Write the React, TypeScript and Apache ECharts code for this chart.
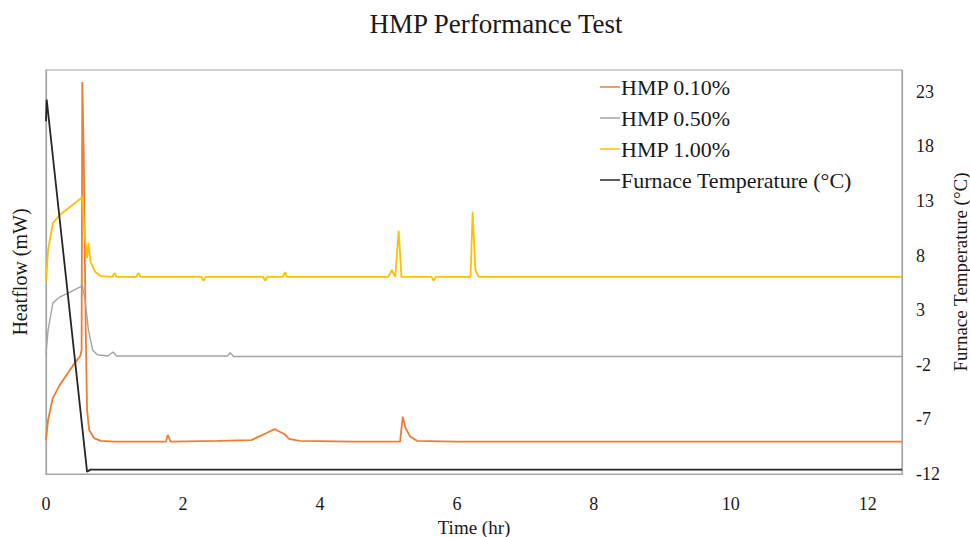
import React, { useEffect, useRef } from "react";
import * as echarts from "echarts";

// Time (hr) and heatflow values (arbitrary offset units on the left axis)
const orangeTime = [0, 0.03, 0.1, 0.2, 0.3, 0.4, 0.5, 0.52, 0.53, 0.55, 0.58, 0.6, 0.63, 0.7, 0.8, 1.0, 1.75, 1.78, 1.82, 2.5, 3.0, 3.1, 3.25, 3.34, 3.42, 3.48, 3.55, 3.7, 4.5, 5.17, 5.21, 5.25, 5.32, 5.42, 6.0, 8.0, 10.0, 12.5];
const orangeValue = [8.4, 13.4, 18.8, 22.0, 24.5, 27.0, 29.2, 30.7, 97.0, 80.2, 35.6, 15.8, 10.9, 8.9, 8.2, 8.0, 8.0, 9.65, 8.0, 8.2, 8.4, 9.2, 10.4, 11.1, 10.4, 9.9, 8.7, 8.2, 8.0, 8.0, 14.2, 11.4, 9.2, 8.2, 8.0, 8.0, 8.0, 8.0];

const grayTime = [0, 0.03, 0.1, 0.2, 0.35, 0.5, 0.53, 0.57, 0.62, 0.68, 0.75, 0.9, 0.98, 1.03, 2.65, 2.69, 2.74, 4.0, 6.0, 8.0, 10.0, 12.5];
const grayValue = [29.5, 35.6, 42.3, 43.8, 45.0, 46.3, 46.8, 43.1, 35.6, 30.7, 29.5, 29.2, 30.2, 29.2, 29.2, 30.0, 29.1, 29.1, 29.1, 29.1, 29.1, 29.1];

const yellowTime = [0, 0.03, 0.1, 0.2, 0.35, 0.5, 0.53, 0.56, 0.6, 0.62, 0.65, 0.72, 0.8, 0.97, 1.0, 1.03, 1.32, 1.35, 1.38, 2.27, 2.3, 2.33, 3.17, 3.2, 3.23, 3.46, 3.49, 3.52, 5.0, 5.05, 5.1, 5.15, 5.19, 5.63, 5.66, 5.69, 6.2, 6.23, 6.27, 6.32, 8.0, 10.0, 12.5];
const yellowValue = [47.5, 55.4, 62.1, 64.1, 66.1, 68.1, 68.6, 60.4, 53.5, 57.2, 52.5, 50.0, 49.0, 48.8, 49.8, 48.8, 48.8, 49.8, 48.8, 48.8, 47.8, 48.8, 48.8, 47.8, 48.8, 48.8, 50.0, 48.8, 48.8, 50.5, 48.8, 60.2, 48.8, 48.8, 47.8, 48.8, 48.8, 64.9, 50.5, 48.8, 48.8, 48.8, 48.8];

// Furnace temperature (°C)
const furnaceTime = [0, 0.01, 0.6, 0.65, 2.0, 6.0, 12.5];
const furnaceValue = [20.3, 22.3, -11.8, -11.6, -11.6, -11.6, -11.6];

const xTickLabels = [0, 2, 4, 6, 8, 10, 12];
const tempTickLabels = [-12, -7, -2, 3, 8, 13, 18, 23];

const seriesNames = ["HMP 0.10%", "HMP 0.50%", "HMP 1.00%", "Furnace Temperature (°C)"];
const seriesColors = ["#ED7D31", "#A5A5A5", "#FFC000", "#262626"];

const FONT = "Liberation Serif";
const TEXT = "#1a1a1a";

function zip(t: number[], v: number[]) {
  return t.map((x, i) => [x, v[i]]);
}

export default function App() {
  const ref = useRef<HTMLDivElement>(null);
  useEffect(() => {
    if (!ref.current) return;
    const chart = echarts.init(ref.current, undefined, { renderer: "svg" });
    const data = [
      zip(orangeTime, orangeValue),
      zip(grayTime, grayValue),
      zip(yellowTime, yellowValue),
      zip(furnaceTime, furnaceValue),
    ];
    chart.setOption({
      animation: false,
      backgroundColor: "#ffffff",
      textStyle: { fontFamily: FONT },
      title: {
        text: "HMP Performance Test",
        left: 491,
        textAlign: "center",
        top: 5,
        textStyle: { fontFamily: FONT, fontSize: 27, fontWeight: "normal", color: TEXT },
      },
      legend: {
        orient: "vertical",
        left: 595,
        top: 71,
        icon: "rect",
        itemWidth: 20,
        itemHeight: 1.5,
        itemGap: 9,
        data: seriesNames,
        textStyle: { fontFamily: FONT, fontSize: 22, color: TEXT, lineHeight: 21, padding: [0, 0, 0, -4] },
      },
      grid: {
        left: 46,
        right: 68,
        top: 70,
        bottom: 63,
        outerBoundsMode: "none",
        containLabel: false,
        show: true,
        borderColor: "#A6A6A6",
        borderWidth: 1.2,
        backgroundColor: "transparent",
      },
      xAxis: {
        type: "value",
        min: 0,
        max: 12.5,
        name: "Time (hr)",
        nameLocation: "middle",
        nameGap: 41,
        nameTextStyle: { fontFamily: FONT, fontSize: 19, color: TEXT },
        axisLine: { show: true, lineStyle: { color: "#A6A6A6", width: 1.2 } },
        axisTick: { show: false },
        splitLine: { show: false },
        axisLabel: { customValues: xTickLabels, margin: 21, fontFamily: FONT, fontSize: 18, color: TEXT },
      },
      yAxis: [
        {
          type: "value",
          min: 0,
          max: 100,
          name: "Heatflow (mW)",
          nameLocation: "middle",
          nameRotate: 90,
          nameGap: 16,
          nameTextStyle: { fontFamily: FONT, fontSize: 20, color: TEXT },
          axisLine: { show: true, lineStyle: { color: "#A6A6A6", width: 1.2 } },
          axisTick: { show: false },
          axisLabel: { show: false },
          splitLine: { show: false },
        },
        {
          type: "value",
          position: "right",
          min: -12,
          max: 25,
          name: "Furnace Temperature (°C)",
          nameLocation: "middle",
          nameRotate: 90,
          nameGap: 42,
          nameTextStyle: { fontFamily: FONT, fontSize: 19, color: TEXT },
          axisLine: { show: true, lineStyle: { color: "#A6A6A6", width: 1.2 } },
          axisTick: { show: false },
          splitLine: { show: false },
          axisLabel: { customValues: tempTickLabels, margin: 14, fontFamily: FONT, fontSize: 18, color: TEXT },
        },
      ],
      series: data.map((d, i) => ({
        name: seriesNames[i],
        type: "line",
        yAxisIndex: i === 3 ? 1 : 0,
        data: d,
        showSymbol: false,
        symbol: "none",
        lineStyle: { color: seriesColors[i], width: i === 1 ? 1.4 : 1.8 },
        itemStyle: { color: seriesColors[i] },
        z: i === 3 ? 3 : 2,
      })),
    });
    return () => chart.dispose();
  }, []);
  return (
    <div ref={ref} style={{ position: "absolute", left: 0, top: 0, width: 970, height: 537 }} />
  );
}
